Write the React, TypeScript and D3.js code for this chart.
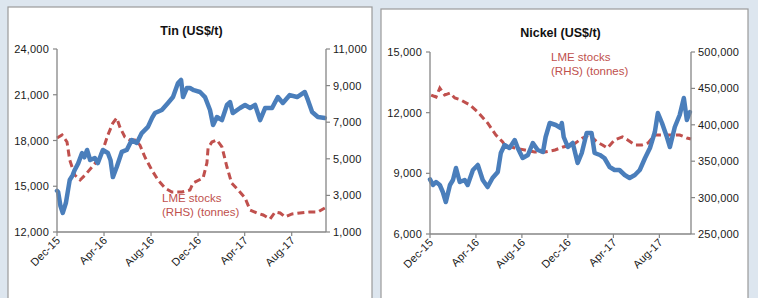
import React from "react";
import * as d3 from "d3";

const tickDates = ["2015-12-01", "2016-04-01", "2016-08-01", "2016-12-01", "2017-04-01", "2017-08-01"];
const tickLabels = ["Dec-15", "Apr-16", "Aug-16", "Dec-16", "Apr-17", "Aug-17"];

const tinPriceTicks = [12000, 15000, 18000, 21000, 24000];
const tinStockTicks = [1000, 3000, 5000, 7000, 9000, 11000];
const nickelPriceTicks = [6000, 9000, 12000, 15000];
const nickelStockTicks = [250000, 300000, 350000, 400000, 450000, 500000];

const tinPrice: [string, number][] = [
  ["2015-12-01", 14700], ["2015-12-04", 14620], ["2015-12-10", 13700], ["2015-12-16", 13250], ["2015-12-24", 13900],
  ["2016-01-03", 15410], ["2016-01-10", 15700], ["2016-01-16", 16070], ["2016-01-25", 16500], ["2016-02-04", 17180],
  ["2016-02-10", 16900], ["2016-02-17", 17380], ["2016-02-25", 16720], ["2016-03-08", 16850], ["2016-03-16", 16520],
  ["2016-03-29", 17380], ["2016-04-11", 17180], ["2016-04-18", 16700], ["2016-04-24", 15600], ["2016-05-04", 16260],
  ["2016-05-17", 17250], ["2016-05-30", 17380], ["2016-06-12", 18030], ["2016-06-25", 17840], ["2016-07-08", 18490],
  ["2016-07-24", 18890], ["2016-08-04", 19500], ["2016-08-11", 19800], ["2016-08-29", 20000], ["2016-09-14", 20460],
  ["2016-09-27", 20850], ["2016-10-10", 21770], ["2016-10-18", 21970], ["2016-10-23", 20850], ["2016-11-02", 21440],
  ["2016-11-10", 21440], ["2016-11-20", 21300], ["2016-12-06", 21180], ["2016-12-19", 20850], ["2017-01-01", 20000],
  ["2017-01-09", 19020], ["2017-01-19", 19540], ["2017-02-01", 19340], ["2017-02-14", 20330], ["2017-02-22", 20520],
  ["2017-03-01", 19800], ["2017-03-20", 20130], ["2017-04-02", 20330], ["2017-04-15", 20130], ["2017-04-28", 20330],
  ["2017-05-11", 19340], ["2017-05-24", 20130], ["2017-06-11", 20130], ["2017-06-26", 20850], ["2017-07-09", 20460],
  ["2017-07-27", 20980], ["2017-08-15", 20850], ["2017-09-04", 21180], ["2017-09-12", 20660], ["2017-09-23", 19870],
  ["2017-10-08", 19540], ["2017-10-26", 19480],
];

const tinStock: [string, number][] = [
  ["2015-12-01", 6137], ["2015-12-14", 6300], ["2015-12-27", 5918], ["2016-01-03", 4935], ["2016-01-16", 4115],
  ["2016-01-30", 3842], ["2016-02-12", 4115], ["2016-03-01", 4552], ["2016-03-16", 4935], ["2016-03-29", 5481],
  ["2016-04-11", 6300], ["2016-04-24", 6957], ["2016-05-04", 7230], ["2016-05-12", 6738], ["2016-05-25", 6192],
  ["2016-06-07", 6028], ["2016-06-20", 6028], ["2016-07-03", 5755], ["2016-07-16", 5100], ["2016-08-03", 4389],
  ["2016-08-19", 3842], ["2016-09-06", 3405], ["2016-09-24", 3186], ["2016-10-20", 3186], ["2016-11-10", 3295],
  ["2016-11-18", 3678], ["2016-12-14", 3951], ["2016-12-24", 4771], ["2016-12-27", 5591], ["2017-01-06", 5918],
  ["2017-01-19", 6028], ["2017-02-01", 5645], ["2017-02-14", 4552], ["2017-02-26", 3678], ["2017-03-15", 3295],
  ["2017-04-02", 2858], ["2017-04-15", 2203], ["2017-05-03", 2039], ["2017-05-19", 1930], ["2017-06-06", 1711],
  ["2017-06-19", 2094], ["2017-07-02", 2039], ["2017-07-15", 1820], ["2017-08-02", 1984], ["2017-08-22", 2039],
  ["2017-09-17", 2094], ["2017-10-08", 2094], ["2017-10-26", 2312],
];

const nickelPrice: [string, number][] = [
  ["2015-12-01", 8700], ["2015-12-09", 8423], ["2015-12-17", 8571], ["2015-12-27", 8423], ["2016-01-04", 8077],
  ["2016-01-12", 7582], ["2016-01-23", 8423], ["2016-01-31", 8670], ["2016-02-08", 9264], ["2016-02-18", 8571],
  ["2016-03-02", 8670], ["2016-03-10", 8423], ["2016-03-24", 9165], ["2016-04-06", 9412], ["2016-04-19", 8670],
  ["2016-05-02", 8324], ["2016-05-15", 8769], ["2016-05-29", 9066], ["2016-06-06", 10006], ["2016-06-16", 10401],
  ["2016-06-29", 10253], ["2016-07-13", 10648], ["2016-07-21", 10253], ["2016-08-03", 9758], ["2016-08-17", 9907],
  ["2016-08-30", 10500], ["2016-09-12", 10154], ["2016-09-26", 10055], ["2016-10-03", 10797], ["2016-10-14", 11489],
  ["2016-10-30", 11390], ["2016-11-12", 11242], ["2016-11-15", 11489], ["2016-11-20", 10797], ["2016-12-01", 10302],
  ["2016-12-14", 10500], ["2016-12-27", 9511], ["2017-01-07", 10006], ["2017-01-20", 10995], ["2017-02-02", 10995],
  ["2017-02-10", 10006], ["2017-02-24", 9907], ["2017-03-08", 9758], ["2017-03-22", 9313], ["2017-04-04", 9165],
  ["2017-04-17", 9165], ["2017-05-01", 8918], ["2017-05-14", 8769], ["2017-05-28", 8918], ["2017-06-10", 9165],
  ["2017-06-24", 9758], ["2017-07-07", 10253], ["2017-07-20", 11044], ["2017-07-28", 11984], ["2017-08-08", 11489],
  ["2017-08-21", 10797], ["2017-08-29", 10302], ["2017-09-11", 11291], ["2017-09-24", 11885], ["2017-10-05", 12725],
  ["2017-10-13", 11637], ["2017-10-21", 12033],
];

const nickelStock: [string, number][] = [
  ["2015-12-04", 440900], ["2015-12-17", 438200], ["2015-12-27", 450500], ["2016-01-09", 440900], ["2016-01-23", 443700],
  ["2016-02-05", 436800], ["2016-02-21", 434100], ["2016-03-16", 427200], ["2016-04-06", 417600], ["2016-05-02", 402500],
  ["2016-05-24", 386000], ["2016-06-11", 376400], ["2016-06-16", 372300], ["2016-07-13", 368100], ["2016-08-09", 365400],
  ["2016-09-04", 362600], ["2016-10-01", 362600], ["2016-10-28", 365400], ["2016-11-18", 369500], ["2016-12-14", 372300],
  ["2017-01-09", 381900], ["2017-01-28", 386000], ["2017-02-16", 376400], ["2017-03-03", 372300], ["2017-03-16", 368100],
  ["2017-04-04", 379100], ["2017-04-25", 383300], ["2017-05-09", 379100], ["2017-05-28", 372300], ["2017-06-16", 372300],
  ["2017-07-02", 375000], ["2017-07-20", 386000], ["2017-08-08", 386000], ["2017-08-29", 386000], ["2017-09-24", 386000],
  ["2017-10-13", 381900], ["2017-10-24", 380500],
];

const parse = d3.timeParse("%Y-%m-%d");
const fmt = d3.format(",");
const FONT = "'Liberation Sans', Arial, sans-serif";
const BLUE = "#4a7ebb";
const RED = "#c0504d";
const AXIS = "#868686";

type PanelProps = {
  frame: { x: number; y: number; w: number; h: number };
  plot: { x0: number; x1: number; y0: number; y1: number };
  title: string;
  titleY: number;
  xEnd: string;
  priceTicks: number[];
  stockTicks: number[];
  price: [string, number][];
  stock: [string, number][];
  legend: { x: number; y: number };
};

function Panel(p: PanelProps) {
  const { plot } = p;
  const x = d3.scaleTime().domain([parse("2015-12-01")!, parse(p.xEnd)!]).range([plot.x0, plot.x1]);
  const yL = d3.scaleLinear().domain([p.priceTicks[0], p.priceTicks[p.priceTicks.length - 1]]).range([plot.y1, plot.y0]);
  const yR = d3.scaleLinear().domain([p.stockTicks[0], p.stockTicks[p.stockTicks.length - 1]]).range([plot.y1, plot.y0]);
  const lineL = d3.line<[string, number]>().x((d) => x(parse(d[0])!)).y((d) => yL(d[1]));
  const lineR = d3.line<[string, number]>().x((d) => x(parse(d[0])!)).y((d) => yR(d[1]));
  const cx = (plot.x0 + plot.x1) / 2;
  return (
    <g>
      <rect x={p.frame.x} y={p.frame.y} width={p.frame.w} height={p.frame.h} fill="#fff" stroke="#9a9a9a" strokeWidth={1.2} />
      <text x={cx} y={p.titleY} textAnchor="middle" fontFamily={FONT} fontWeight="bold" fontSize={12.5} fill="#111">{p.title}</text>
      <path d={lineR(p.stock) || ""} fill="none" stroke={RED} strokeWidth={3} strokeDasharray="7,4" />
      <path d={lineL(p.price) || ""} fill="none" stroke={BLUE} strokeWidth={4.5} strokeLinejoin="round" strokeLinecap="round" />
      <line x1={plot.x0} x2={plot.x0} y1={plot.y0} y2={plot.y1} stroke={AXIS} strokeWidth={1.3} />
      <line x1={plot.x1} x2={plot.x1} y1={plot.y0} y2={plot.y1} stroke={AXIS} strokeWidth={1.3} />
      <line x1={plot.x0} x2={plot.x1} y1={plot.y1} y2={plot.y1} stroke={AXIS} strokeWidth={1.3} />
      {p.priceTicks.map((t) => (
        <g key={"l" + t}>
          <line x1={plot.x0 - 4} x2={plot.x0} y1={yL(t)} y2={yL(t)} stroke={AXIS} strokeWidth={1.2} />
          <text x={plot.x0 - 8} y={yL(t) + 4} textAnchor="end" fontFamily={FONT} fontSize={11} fill="#1a1a1a" letterSpacing={0.2}>{fmt(t)}</text>
        </g>
      ))}
      {p.stockTicks.map((t) => (
        <g key={"r" + t}>
          <line x1={plot.x1} x2={plot.x1 + 4} y1={yR(t)} y2={yR(t)} stroke={AXIS} strokeWidth={1.2} />
          <text x={plot.x1 + 7} y={yR(t) + 4} textAnchor="start" fontFamily={FONT} fontSize={11} fill="#1a1a1a" letterSpacing={0.2}>{fmt(t)}</text>
        </g>
      ))}
      {tickDates.map((d, i) => {
        const tx = x(parse(d)!);
        return (
          <g key={d}>
            <line x1={tx} x2={tx} y1={plot.y1} y2={plot.y1 + 4} stroke={AXIS} strokeWidth={1.2} />
            <text transform={`translate(${tx + 4},${plot.y1 + 9}) rotate(-45)`} textAnchor="end" fontFamily={FONT} fontSize={11} fill="#1a1a1a" letterSpacing={0.2}>{tickLabels[i]}</text>
          </g>
        );
      })}
      <text x={p.legend.x} y={p.legend.y} fontFamily={FONT} fontSize={11.5} fill={RED}>
        <tspan x={p.legend.x} dy={0}>LME stocks</tspan>
        <tspan x={p.legend.x} dy={13.5}>(RHS) (tonnes)</tspan>
      </text>
    </g>
  );
}

export default function App() {
  return (
    <svg width={758} height={298} style={{ position: "absolute", left: 0, top: 0 }}>
      <rect x={0} y={0} width={758} height={298} fill="#dde6ef" />
      <Panel
        frame={{ x: 8, y: 7, w: 364, h: 300 }}
        plot={{ x0: 57, x1: 326, y0: 49, y1: 232 }}
        title="Tin (US$/t)"
        titleY={35}
        xEnd="2017-10-29"
        priceTicks={tinPriceTicks}
        stockTicks={tinStockTicks}
        price={tinPrice}
        stock={tinStock}
        legend={{ x: 162, y: 202 }}
      />
      <Panel
        frame={{ x: 381, y: 9, w: 367, h: 300 }}
        plot={{ x0: 430, x1: 691, y0: 52, y1: 234 }}
        title="Nickel (US$/t)"
        titleY={37}
        xEnd="2017-10-24"
        priceTicks={nickelPriceTicks}
        stockTicks={nickelStockTicks}
        price={nickelPrice}
        stock={nickelStock}
        legend={{ x: 551, y: 61 }}
      />
    </svg>
  );
}
